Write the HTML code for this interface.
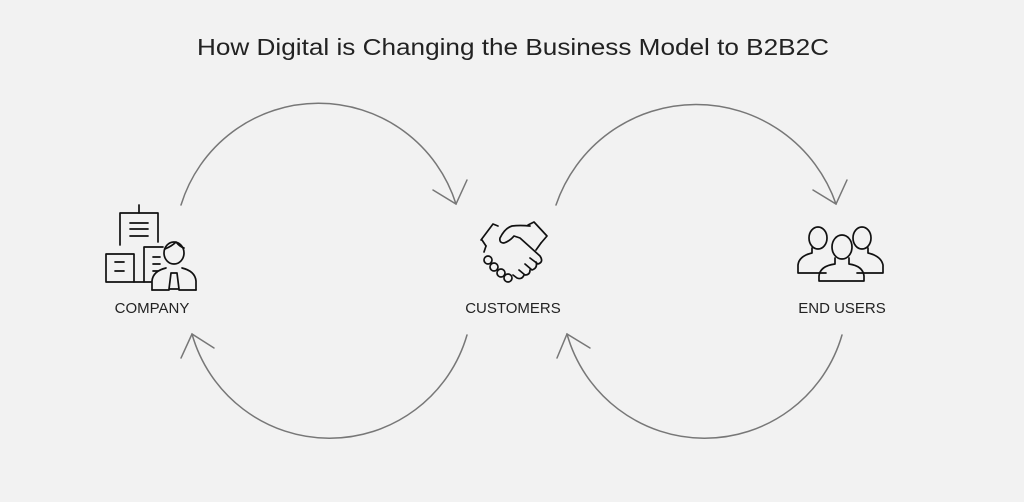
<!DOCTYPE html>
<html><head><meta charset="utf-8"><style>
html,body{margin:0;padding:0;background:#f2f2f2;}
svg{display:block}
text{font-family:"Liberation Sans",sans-serif;fill:#222}
</style></head><body>
<svg width="1024" height="502" viewBox="0 0 1024 502" xmlns="http://www.w3.org/2000/svg">
<rect width="1024" height="502" fill="#f2f2f2"/>
<text x="513" y="55" font-size="23" text-anchor="middle" textLength="632" lengthAdjust="spacingAndGlyphs" fill="#3a3a3a">How Digital is Changing the Business Model to B2B2C</text>

<g fill="none" stroke="#777" stroke-width="1.5" stroke-linecap="round">
<path d="M181 205 A144 144 0 0 1 456 204"/>
<polyline points="433,190 456,204 467,180"/>
<path d="M467 335 A143 143 0 0 1 192 334"/>
<polyline points="181,358 192,334 214,348"/>
<path d="M556 205 A148 148 0 0 1 836 204"/>
<polyline points="813,190 836,204 847,180"/>
<path d="M842 335 A143 143 0 0 1 567 334"/>
<polyline points="557,358 567,334 590,348"/>
</g>

<g fill="none" stroke="#111" stroke-width="1.7" stroke-linejoin="round" stroke-linecap="round">
<!-- company -->
<line x1="139" y1="205" x2="139" y2="213"/>
<polyline points="120,245 120,213 158,213 158,242"/>
<line x1="130" y1="223" x2="148" y2="223"/><line x1="130" y1="229" x2="148" y2="229"/><line x1="130" y1="236" x2="148" y2="236"/>
<rect x="106" y="254" width="28" height="28"/>
<line x1="115" y1="262" x2="124" y2="262"/><line x1="115" y1="271" x2="124" y2="271"/>
<polyline points="144,282 144,247 163,247"/>
<line x1="134" y1="282" x2="151" y2="282"/>
<line x1="153" y1="257" x2="160" y2="257"/><line x1="153" y1="264" x2="160" y2="264"/><line x1="153" y1="271" x2="158" y2="271"/>
<ellipse cx="174" cy="253" rx="10" ry="11"/>
<path d="M165 249 Q172 246 176 242 Q180 247 184 248"/>
<path d="M152 290 L152 281 Q153 271 166 268"/>
<path d="M182 268 Q195 271 196 281 L196 290"/>
<line x1="152" y1="290" x2="169" y2="290"/><line x1="179" y1="290" x2="196" y2="290"/>
<path d="M171 273 L169 289 L179 289 L177 273 Z"/>
<!-- handshake -->
<polyline points="481,240 493,224 498,226"/>
<polyline points="482,240 486,246"/>
<polyline points="528,225 534,222 547,236 541,243"/>
<circle cx="488" cy="260" r="4"/><circle cx="494" cy="267" r="4"/><circle cx="501" cy="273" r="4"/><circle cx="508" cy="278" r="4"/>
<path d="M486 246 L484 252 M530 226 Q520 225 512 226 Q505 228 500 238 Q499 243 504 243 Q510 241 514 236 L520 238 L540 256 Q544 262 538 264 L530 258 M536 262 Q538 268 532 270 L525 264 M530 270 Q530 275 525 275 L519 270 M524 275 Q522 280 517 278 L513 275"/>
<path d="M541 243 L536 250"/>
<!-- end users -->
<ellipse cx="818" cy="238" rx="9" ry="11"/>
<ellipse cx="862" cy="238" rx="9" ry="11"/>
<path d="M812 248 L812 253 Q799 256 798 265 L798 273 L826 273"/>
<path d="M868 248 L868 253 Q881 256 883 265 L883 273 L857 273"/>
<ellipse cx="842" cy="247" rx="10" ry="12"/>
<path d="M835 258 L835 264 Q820 266 819 276 L819 281 L864 281 L864 276 Q863 266 849 264 L849 258"/>
</g>

<g font-size="15" text-anchor="middle" fill="#111">
<text x="152" y="313">COMPANY</text>
<text x="513" y="313">CUSTOMERS</text>
<text x="842" y="313">END USERS</text>
</g>
</svg>
</body></html>
